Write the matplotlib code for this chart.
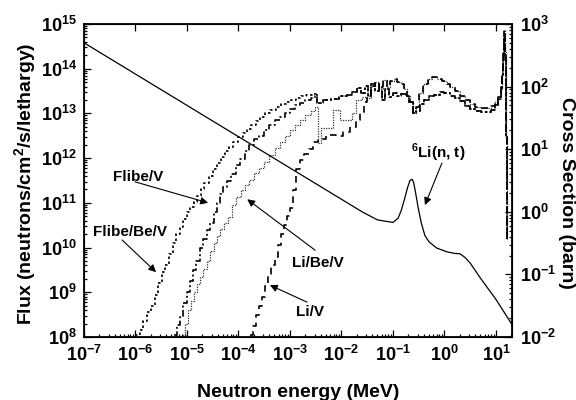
import numpy as np
import matplotlib
matplotlib.use("Agg")
import matplotlib.pyplot as plt
from matplotlib.ticker import LogLocator, NullFormatter

plt.rcParams['font.family'] = ['Liberation Sans', 'DejaVu Sans']
plt.rcParams['font.weight'] = 'bold'

# all values, stored as log10(E/MeV) and log10(flux)

# shared high-energy part of the two Flibe blankets
flibe_tail_loge = [-2.48, -2.35, -2.2, -2.05, -1.9, -1.8, -1.7, -1.62, -1.55, -1.48, -1.42, -1.35,
                   -1.28, -1.22, -1.15, -1.08, -1.0, -0.92, -0.85, -0.75, -0.68, -0.62, -0.56, -0.48,
                   -0.40, -0.30, -0.20, -0.09, 0.0, 0.1, 0.2, 0.3, 0.4, 0.5, 0.6, 0.7, 0.8, 0.9,
                   0.98, 1.04, 1.09, 1.12, 1.14, 1.15, 1.17, 1.19, 1.21]
flibe_tail_logphi = [13.23, 13.30, 13.33, 13.38, 13.42, 13.48, 13.57, 13.45, 13.62, 13.40, 13.66, 13.50,
                     13.62, 13.30, 13.55, 13.37, 13.45, 13.40, 13.43, 13.38, 13.25, 13.0, 13.05, 13.2,
                     13.30, 13.38, 13.42, 13.48, 13.45, 13.40, 13.35, 13.27, 13.17, 13.10, 13.05, 13.03,
                     13.04, 13.08, 13.18, 13.32, 13.55, 13.85, 14.2, 14.69, 14.3, 12.5, 10.2]

# shared high-energy part of the two Li blankets
li_tail_loge = [-1.5, -1.42, -1.35, -1.28, -1.2, -1.12, -1.05, -0.98, -0.92, -0.85, -0.78, -0.72,
                -0.66, -0.62, -0.56, -0.50, -0.42, -0.32, -0.24, -0.15, -0.05, 0.05, 0.11, 0.2,
                0.3, 0.4, 0.5, 0.6, 0.69, 0.8, 0.9, 0.98, 1.04, 1.09, 1.12, 1.14, 1.15, 1.17,
                1.19, 1.21]
li_tail_logphi = [13.35, 13.62, 13.70, 13.55, 13.75, 13.60, 13.72, 13.78, 13.70, 13.65, 13.55, 13.40,
                  13.25, 13.0, 13.15, 13.45, 13.65, 13.76, 13.81, 13.78, 13.72, 13.65, 13.59, 13.50,
                  13.40, 13.30, 13.20, 13.14, 13.12, 13.12, 13.16, 13.25, 13.37, 13.6, 13.95, 14.4,
                  14.87, 14.4, 12.5, 10.2]

# low-energy rise of each blanket
flibe_be_v_loge = [-6.0, -5.92, -5.85, -5.77, -5.70, -5.63, -5.56, -5.49, -5.42, -5.35, -5.28, -5.21,
                   -5.14, -5.07, -5.0, -4.94, -4.87, -4.80, -4.73, -4.66, -4.58, -4.50, -4.42, -4.34,
                   -4.26, -4.18, -4.10, -4.0, -3.92, -3.84, -3.75, -3.66, -3.58, -3.48, -3.38, -3.28,
                   -3.18, -3.08, -2.98, -2.88, -2.78, -2.68, -2.58, -2.50]
flibe_be_v_logphi = [8.05, 8.15, 8.35, 8.55, 8.70, 8.95, 9.20, 9.45, 9.62, 9.85, 10.10, 10.30,
                     10.46, 10.65, 10.80, 10.90, 11.03, 11.15, 11.30, 11.45, 11.60, 11.75, 11.90, 12.03,
                     12.15, 12.26, 12.36, 12.48, 12.57, 12.65, 12.75, 12.84, 12.92, 13.0, 13.07, 13.14,
                     13.20, 13.25, 13.30, 13.34, 13.38, 13.41, 13.44, 13.46]

flibe_v_loge = [-5.25, -5.19, -5.13, -5.07, -5.0, -4.95, -4.88, -4.82, -4.75, -4.68, -4.61, -4.55,
                -4.48, -4.42, -4.36, -4.30, -4.22, -4.15, -4.05, -3.97, -3.88, -3.80, -3.70, -3.60,
                -3.50, -3.40, -3.30, -3.20, -3.10, -3.0, -2.90, -2.80, -2.70, -2.60, -2.52]
flibe_v_logphi = [8.05, 8.27, 8.45, 8.75, 9.0, 9.25, 9.50, 9.70, 10.0, 10.2, 10.40, 10.55,
                  10.80, 11.0, 11.2, 11.35, 11.50, 11.65, 11.85, 11.98, 12.15, 12.30, 12.42, 12.50,
                  12.62, 12.74, 12.85, 12.92, 13.02, 13.10, 13.18, 13.24, 13.30, 13.35, 13.38]

li_be_v_loge = [-5.10, -5.04, -4.98, -4.92, -4.86, -4.80, -4.74, -4.68, -4.62, -4.55, -4.48, -4.42,
                -4.35, -4.28, -4.20, -4.12, -4.04, -3.96, -3.88, -3.80, -3.70, -3.60, -3.50, -3.40,
                -3.30, -3.20, -3.10, -3.0, -2.90, -2.80, -2.70, -2.60, -2.52, -2.46, -2.40, -2.17,
                -2.03, -1.80, -1.72, -1.60]
li_be_v_logphi = [8.05, 8.30, 8.60, 8.80, 9.0, 9.18, 9.35, 9.52, 9.70, 9.92, 10.10, 10.25,
                  10.42, 10.55, 10.68, 10.95, 11.12, 11.28, 11.40, 11.52, 11.66, 11.78, 11.92, 12.06,
                  12.22, 12.36, 12.50, 12.63, 12.74, 12.85, 12.96, 13.06, 13.15, 12.34, 12.67, 13.08,
                  12.85, 13.0, 13.30, 13.37]

li_v_loge = [-3.78, -3.72, -3.66, -3.60, -3.54, -3.48, -3.42, -3.36, -3.30, -3.24, -3.18, -3.12,
             -3.06, -3.0, -2.94, -2.88, -2.80, -2.72, -2.64, -2.56, -2.45, -2.30, -2.10, -1.97,
             -1.83, -1.72, -1.64, -1.56]
li_v_logphi = [8.05, 8.25, 8.50, 8.70, 8.90, 9.15, 9.40, 9.60, 9.80, 10.05, 10.30, 10.50,
               10.70, 10.88, 11.29, 11.75, 11.95, 12.10, 12.20, 12.35, 12.42, 12.52, 12.50, 12.58,
               12.70, 12.85, 13.0, 13.25]

# 6Li(n,t) cross section, log10(E/MeV) and log10(sigma/barn)
xs_loge = [-7.0, -3.0, -2.0, -1.6, -1.3, -1.0, -0.9, -0.84, -0.77, -0.72, -0.67, -0.63, -0.60,
           -0.56, -0.51, -0.45, -0.38, -0.30, -0.15, 0.05, 0.2, 0.30, 0.40, 0.5, 0.69, 1.0, 1.31]
xs_logsig = [2.70, 0.70, 0.20, 0.0, -0.13, -0.17, -0.10, 0.02, 0.22, 0.38, 0.50, 0.52, 0.47,
             0.30, 0.06, -0.18, -0.38, -0.48, -0.58, -0.64, -0.665, -0.67, -0.73, -0.82, -1.05,
             -1.40, -1.80]

fig = plt.figure(figsize=(5.76, 4.0), dpi=100)
ax = fig.add_axes([0.1458, 0.1575, 0.743, 0.7825])
ax2 = ax.twinx()


def plot_flux(loge, logphi, tail_e, tail_phi, **kw):
    e = 10 ** np.array(loge + tail_e)
    phi = 10 ** np.array(logphi + tail_phi)
    ax.plot(e, phi, drawstyle='steps-post', color='k', **kw)


plot_flux(li_v_loge, li_v_logphi, li_tail_loge, li_tail_logphi,
          lw=1.2, linestyle=(0, (4, 3)))
plot_flux(li_be_v_loge, li_be_v_logphi, li_tail_loge, li_tail_logphi,
          lw=0.9, linestyle=(0, (1, 1)), alpha=0.8)
plot_flux(flibe_v_loge, flibe_v_logphi, flibe_tail_loge, flibe_tail_logphi,
          lw=1.2, linestyle=(0, (4, 1.5, 1.2, 1.5)))
plot_flux(flibe_be_v_loge, flibe_be_v_logphi, flibe_tail_loge, flibe_tail_logphi,
          lw=1.2, linestyle=(0, (1.5, 1.5)))

ax2.plot(10 ** np.array(xs_loge), 10 ** np.array(xs_logsig), color='k', lw=0.9)

ax.set_xscale('log')
ax.set_yscale('log')
ax2.set_yscale('log')
ax.set_xlim(1e-7, 10 ** 1.31)
ax.set_ylim(1e8, 1e15)
ax2.set_ylim(1e-2, 1e3)

ax.xaxis.set_major_locator(LogLocator(base=10, numticks=20))
ax.yaxis.set_major_locator(LogLocator(base=10, numticks=20))
ax2.yaxis.set_major_locator(LogLocator(base=10, numticks=20))
for a in (ax.xaxis, ax.yaxis, ax2.yaxis):
    a.set_minor_locator(LogLocator(base=10, subs=np.arange(2, 10) * 1.0, numticks=100))
    a.set_minor_formatter(NullFormatter())

ax.tick_params(axis='both', which='both', direction='in', labelsize=13, width=0.9)
ax.tick_params(axis='both', which='major', length=5)
ax.tick_params(axis='both', which='minor', length=2.5)
ax.tick_params(axis='x', top=True, pad=6)
ax.tick_params(axis='y', right=False, pad=5)
ax2.tick_params(axis='y', which='both', direction='in', labelsize=13, width=0.9, pad=6)
ax2.tick_params(axis='y', which='major', length=5)
ax2.tick_params(axis='y', which='minor', length=2.5)

for s in ax2.spines.values():
    s.set_linewidth(1.3)

fig.text(0.517, 0.0075, 'Neutron energy (MeV)', ha='center', va='baseline', fontsize=14)
fig.text(0.045, 0.54, 'Flux (neutrons/cm$^\\mathdefault{2}$/s/lethargy)', ha='center', va='center',
         rotation=90, fontsize=14)
fig.text(0.984, 0.518, 'Cross Section (barn)', ha='center', va='center', rotation=270, fontsize=14)

labels = [
    ('Flibe/V', (-5.95, 11.58), (-6.01, 11.47), (-4.59, 11.0)),
    ('Flibe/Be/V', (-6.11, 10.35), (-6.26, 10.17), (-5.60, 9.45)),
    ('Li/Be/V', (-2.46, 9.65), (-2.51, 9.94), (-3.83, 11.08)),
    ('Li/V', (-2.61, 8.56), (-2.67, 8.78), (-3.39, 9.16)),
    ('$^\\mathdefault{6}$Li(n, t)', (-0.13, 12.11), (-0.05, 11.89), (-0.38, 10.95)),
]
for txt, pos, start, end in labels:
    ax.text(10 ** pos[0], 10 ** pos[1], txt, ha='center', va='center', fontsize=11, zorder=5)
    ax.annotate('', xy=(10 ** end[0], 10 ** end[1]), xytext=(10 ** start[0], 10 ** start[1]),
                arrowprops=dict(arrowstyle='-|>', color='k', lw=0.8, mutation_scale=11,
                                shrinkA=0, shrinkB=0))

fig.savefig('out.png', dpi=100)
